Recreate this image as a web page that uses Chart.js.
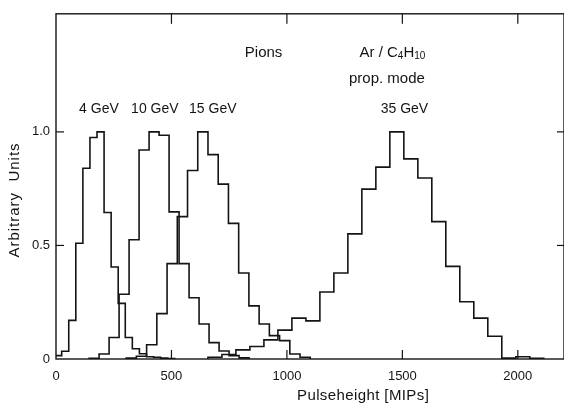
<!DOCTYPE html>
<html>
<head>
<meta charset="utf-8">
<script src="https://cdn.jsdelivr.net/npm/chart.js@4.4.0/dist/chart.umd.min.js"></script>
<style>
html, body { margin: 0; padding: 0; background: #fff; }
#wrap { width: 564px; height: 404px; }
</style>
</head>
<body>
<div id="wrap"><canvas id="chart"></canvas></div>
<script>
// histograms: first bin edge, bin width (MIPs) and normalised bin heights
const start4 = -6, width4 = 30.6;
const vals4 = [0.015, 0.034, 0.17, 0.51, 0.84, 0.975, 1.0, 0.645, 0.405, 0.245,
               0.095, 0.045, 0.023, 0.01, 0.008, 0.004, 0.002];

const start10 = 143.3, width10 = 43.3;
const vals10 = [0.003, 0.022, 0.095, 0.285, 0.525, 0.92, 1.0, 0.985, 0.648, 0.42,
                0.27, 0.154, 0.072, 0.035, 0.015, 0.005];

const start15 = 303.8, width15 = 44.3;
const vals15 = [0.004, 0.012, 0.063, 0.2, 0.42, 0.627, 0.83, 1.0, 0.9, 0.77,
                0.597, 0.379, 0.234, 0.154, 0.103, 0.081, 0.022, 0.008];

const start35 = 658, width35 = 60.6;
const vals35 = [0.008, 0.02, 0.04, 0.055, 0.084, 0.127, 0.18, 0.168, 0.295, 0.379,
                0.551, 0.748, 0.845, 1.0, 0.881, 0.797, 0.605, 0.408, 0.252, 0.18,
                0.1, 0.004, 0.01, 0.003];

const xTicks = [0, 500, 1000, 1500, 2000];
const yTicks = [0, 0.5, 1.0];

// annotations (data coordinates)
const noteText = ['4 GeV', '10 GeV', '15 GeV', '35 GeV', 'Pions', 'prop. mode'];
const noteX = [186, 428, 679, 1509, 899, 1433];
const noteY = [1.10, 1.10, 1.10, 1.10, 1.35, 1.232];

const INK = '#141414';

function histPoints(start, width, vals) {
    var pts = [{x: start, y: 0}];
    vals.forEach(function (v, i) {
        pts.push({x: start + i * width, y: v});
    });
    pts.push({x: start + vals.length * width, y: 0});
    return pts;
}

function histSet(label, pts) {
    return {
        label: label,
        data: pts,
        stepped: true,
        borderColor: INK,
        borderWidth: 1.6,
        borderJoinStyle: 'miter',
        pointRadius: 0,
        fill: false
    };
}

const frame = {
    id: 'frame',
    afterDatasetsDraw(chart) {
        const ctx = chart.ctx;
        const a = chart.chartArea;
        const x = chart.scales.x, y = chart.scales.y;
        ctx.save();
        ctx.strokeStyle = INK;
        ctx.lineWidth = 1.4;
        ctx.strokeRect(a.left, a.top, a.right - a.left, a.bottom - a.top);

        function seg(x1, y1, x2, y2) {
            ctx.beginPath();
            ctx.moveTo(x1, y1);
            ctx.lineTo(x2, y2);
            ctx.stroke();
        }
        // inward tick marks on all four sides
        ctx.lineWidth = 1.2;
        xTicks.forEach(function (v) {
            if (v === 0) return;
            var px = x.getPixelForValue(v);
            seg(px, a.bottom, px, a.bottom - 9);
            seg(px, a.top, px, a.top + 10);
        });
        yTicks.forEach(function (v) {
            if (v === 0) return;
            var py = y.getPixelForValue(v);
            seg(a.left, py, a.left + 8, py);
            seg(a.right, py, a.right - 7, py);
        });

        // text labels
        ctx.fillStyle = INK;
        ctx.textAlign = 'center';
        ctx.textBaseline = 'middle';
        noteText.forEach(function (t, i) {
            ctx.font = (i < 4 ? '14px' : '15px') + " 'Liberation Sans', sans-serif";
            ctx.fillText(t, x.getPixelForValue(noteX[i]), y.getPixelForValue(noteY[i]));
        });

        // Ar / C4H10 with subscripts
        var parts = [['Ar / C', false], ['4', true], ['H', false], ['10', true]];
        var big = "15px 'Liberation Sans', sans-serif";
        var small = "10px 'Liberation Sans', sans-serif";
        var total = 0;
        parts.forEach(function (p) {
            ctx.font = p[1] ? small : big;
            total += ctx.measureText(p[0]).width;
        });
        var cx = x.getPixelForValue(1457) - total / 2;
        var cy = y.getPixelForValue(1.35);
        ctx.textAlign = 'left';
        parts.forEach(function (p) {
            ctx.font = p[1] ? small : big;
            ctx.fillText(p[0], cx, p[1] ? cy + 4 : cy);
            cx += ctx.measureText(p[0]).width;
        });

        // axis titles
        ctx.textAlign = 'center';
        ctx.font = "15px 'Liberation Sans', sans-serif";
        ctx.letterSpacing = '0.4px';
        ctx.fillText('Pulseheight [MIPs]', x.getPixelForValue(1330), 396);
        ctx.translate(15, y.getPixelForValue(0.7));
        ctx.rotate(-Math.PI / 2);
        ctx.letterSpacing = '1px';
        ctx.fillText('Arbitrary  Units', 0, 0);
        ctx.restore();
    }
};

new Chart(document.getElementById('chart'), {
    type: 'line',
    data: {
        datasets: [
            histSet('4 GeV', histPoints(start4, width4, vals4)),
            histSet('10 GeV', histPoints(start10, width10, vals10)),
            histSet('15 GeV', histPoints(start15, width15, vals15)),
            histSet('35 GeV', histPoints(start35, width35, vals35))
        ]
    },
    options: {
        responsive: true,
        maintainAspectRatio: false,
        animation: false,
        layout: { padding: { top: 11, right: 0, left: 0, bottom: 0 } },
        plugins: {
            legend: { display: false },
            tooltip: { enabled: false }
        },
        scales: {
            x: {
                type: 'linear',
                min: 0,
                max: 2200,
                grid: { display: false, drawTicks: false },
                border: { display: false },
                afterBuildTicks: function (s) {
                    s.ticks = xTicks.map(function (v) { return {value: v}; });
                },
                afterFit: function (s) { s.height = 45; },
                ticks: {
                    padding: 10,
                    color: INK,
                    maxRotation: 0,
                    font: { family: "'Liberation Sans', sans-serif", size: 13 },
                    callback: function (v) { return String(v); }
                }
            },
            y: {
                min: 0,
                max: 1.52,
                grid: { display: false, drawTicks: false },
                border: { display: false },
                afterBuildTicks: function (s) {
                    s.ticks = yTicks.map(function (v) { return {value: v}; });
                },
                afterFit: function (s) { s.width = 56; },
                ticks: {
                    padding: 6,
                    color: INK,
                    font: { family: "'Liberation Sans', sans-serif", size: 13 },
                    callback: function (v) { return v === 0 ? '0' : v.toFixed(1); }
                }
            }
        }
    },
    plugins: [frame]
});
</script>
</body>
</html>
